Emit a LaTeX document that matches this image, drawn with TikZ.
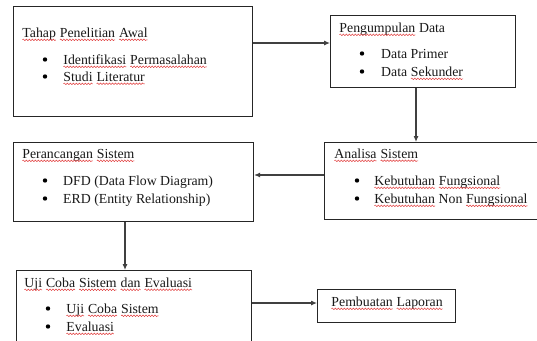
\documentclass[tikz,border=0pt]{standalone}
\usepackage{fontspec}
\setmainfont{Liberation Serif}
\usetikzlibrary{arrows.meta,decorations.pathmorphing}
\definecolor{wavered}{RGB}{225,60,60}
\newcommand\sqw[1]{\tikz[baseline=(sqwn.base)]{\node[inner sep=0pt,outer sep=0pt,anchor=base,draw=none](sqwn){#1};\draw[wavered,line width=0.5pt,decorate,decoration={snake,amplitude=0.8pt,segment length=3pt}] ([yshift=-2.8pt]sqwn.base west) -- ([yshift=-2.8pt]sqwn.base east);}}
\tikzset{
  box/.style={draw=black!85,line width=1.1pt,anchor=north west,inner sep=0pt,rectangle},
  txt/.style={anchor=base west,inner sep=0pt,font=\fontsize{13.8}{16}\selectfont,text=black!90},
  bul/.style={circle,fill=black,inner sep=0pt,minimum size=4.4pt},
  conn/.style={draw=black!75,line width=1.1pt,-{Latex[length=6pt,width=5pt]}}
}
\begin{document}
\begin{tikzpicture}[x=1pt,y=-1pt]
\clip (0,0) rectangle (537,340);
\fill[white] (0,0) rectangle (537,340);
% boxes
\node[box,minimum width=239pt,minimum height=110pt] (b1) at (13,6) {};
\node[box,minimum width=185pt,minimum height=72pt] (b2) at (330,15) {};
\node[box,minimum width=240pt,minimum height=79pt] (b3) at (13,142) {};
\node[box,minimum width=225pt,minimum height=77pt] (b4) at (324,142) {};
\node[box,minimum width=235pt,minimum height=85pt] (b5) at (16,270) {};
\node[box,minimum width=138pt,minimum height=33pt] (b6) at (317,289) {};
% box 1
\node[txt] (t1) at (22,37) {\sqw{Tahap} \sqw{Penelitian} \sqw{Awal}};
\node[bul] (d11) at (45,59.5) {};
\node[txt] (t11) at (63,64) {\sqw{Identifikasi} \sqw{Permasalahan}};
\node[bul] (d12) at (45,76.5) {};
\node[txt] (t12) at (63,81) {\sqw{Studi} \sqw{Literatur}};
% box 2
\node[txt] (t2) at (339,32) {\sqw{Pengumpulan} Data};
\node[bul] (d21) at (362,53.5) {};
\node[txt] (t21) at (381,58) {Data Primer};
\node[bul] (d22) at (362,71.5) {};
\node[txt] (t22) at (381,76) {Data \sqw{Sekunder}};
% box 3
\node[txt] (t3) at (22,158) {\sqw{Perancangan} \sqw{Sistem}};
\node[bul] (d31) at (45,180.5) {};
\node[txt] (t31) at (63,185) {DFD (Data Flow Diagram)};
\node[bul] (d32) at (45,198.5) {};
\node[txt] (t32) at (63,203) {ERD (Entity Relationship)};
% box 4
\node[txt] (t4) at (334,158) {\sqw{Analisa} \sqw{Sistem}};
\node[bul] (d41) at (357,180.5) {};
\node[txt] (t41) at (374,185) {\sqw{Kebutuhan} \sqw{Fungsional}};
\node[bul] (d42) at (357,198.5) {};
\node[txt] (t42) at (374,203) {\sqw{Kebutuhan} Non \sqw{Fungsional}};
% box 5
\node[txt] (t5) at (24,287) {\sqw{Uji} \sqw{Coba} \sqw{Sistem} \sqw{dan} \sqw{Evaluasi}};
\node[bul] (d51) at (48,308.5) {};
\node[txt] (t51) at (66,313) {\sqw{Uji} \sqw{Coba} \sqw{Sistem}};
\node[bul] (d52) at (48,326.5) {};
\node[txt] (t52) at (66,331) {\sqw{Evaluasi}};
% box 6
\node[txt] (t6) at (331,306) {\sqw{Pembuatan} \sqw{Laporan}};
% helper coordinates
\coordinate (h1) at (0,43);
\coordinate (v2) at (416,0);
\coordinate (h3) at (0,175);
\coordinate (v4) at (125,0);
\coordinate (h5) at (0,303);
% connectors
\draw[conn] (b1.east |- h1) -- (b2.west |- h1);
\draw[conn] (v2 |- b2.south) -- (v2 |- b4.north);
\draw[conn] (b4.west |- h3) -- (b3.east |- h3);
\draw[conn] (v4 |- b3.south) -- (v4 |- b5.north);
\draw[conn] (b5.east |- h5) -- (b6.west |- h5);
\end{tikzpicture}
\end{document}
